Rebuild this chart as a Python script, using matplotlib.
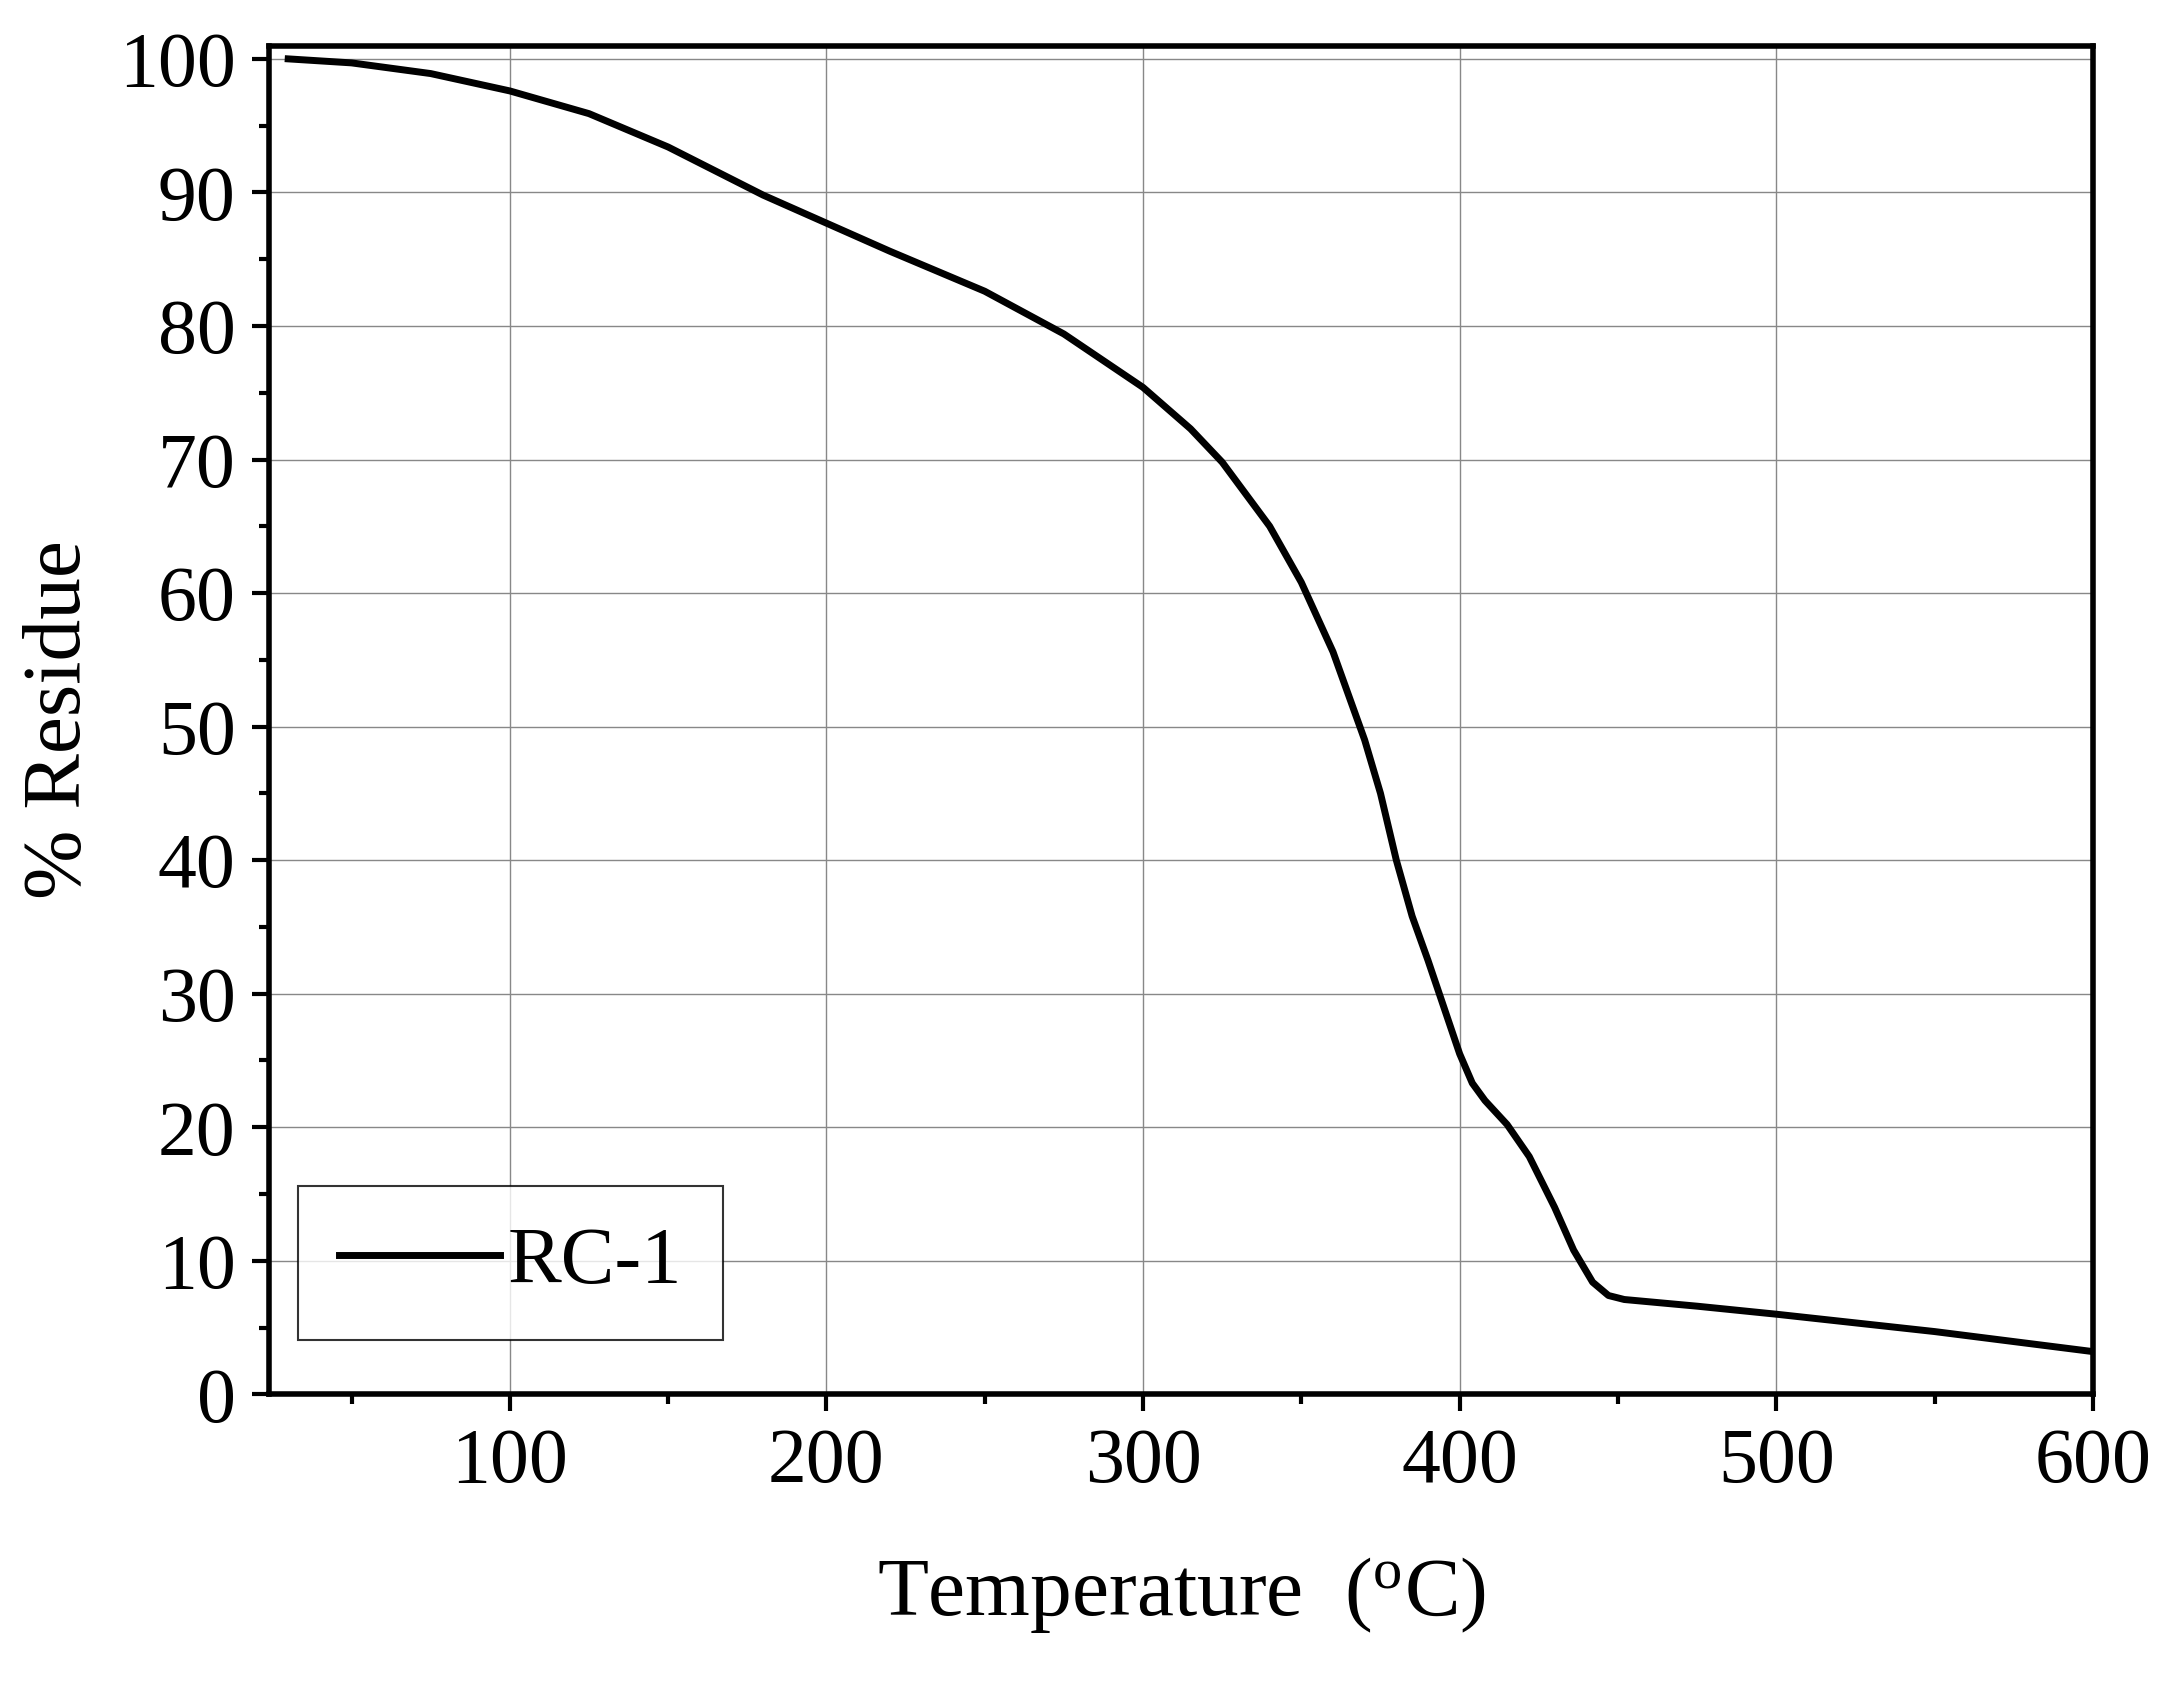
import numpy as np
import matplotlib
matplotlib.use("Agg")
import matplotlib.pyplot as plt
from matplotlib.ticker import MultipleLocator

temperature = [30, 50, 75, 100, 125, 150, 165, 180, 200, 220, 250, 275, 300, 315, 325, 340, 350, 360,
               370, 375, 380, 385, 390, 395, 400, 404, 408, 415, 422, 430, 436, 442, 447, 452,
               475, 500, 550, 600]
residue = [100, 99.7, 98.9, 97.6, 95.9, 93.4, 91.6, 89.8, 87.7, 85.6, 82.6, 79.4, 75.4, 72.3, 69.8, 65.0, 60.8, 55.6,
           49.0, 45.0, 40.0, 35.8, 32.5, 29.0, 25.5, 23.3, 22.0, 20.2, 17.8, 14.0, 10.8, 8.4, 7.4, 7.1,
           6.6, 6.0, 4.7, 3.2]

plt.rcParams['font.family'] = ['Liberation Serif', 'DejaVu Serif']
plt.rcParams['mathtext.fontset'] = 'custom'
plt.rcParams['mathtext.rm'] = 'Liberation Serif'
fig = plt.figure(figsize=(21.71, 16.86), dpi=100)
ax = fig.add_axes([0.124, 0.173, 0.84, 0.80])

ax.plot(temperature, residue, color='black', lw=5, label='RC-1')
ax.set_xlim(24, 600)
ax.set_ylim(0, 101)
ax.xaxis.set_major_locator(MultipleLocator(100))
ax.xaxis.set_minor_locator(MultipleLocator(50))
ax.yaxis.set_major_locator(MultipleLocator(10))
ax.yaxis.set_minor_locator(MultipleLocator(5))
ax.grid(True, which='major', color='#888888', lw=1)
ax.tick_params(which='major', direction='out', length=12, width=3, labelsize=56, pad=12)
ax.tick_params(which='minor', direction='out', length=7, width=3)
for s in ax.spines.values():
    s.set_linewidth(4)
ax.set_xlabel('Temperature  ($\\mathrm{^{o}}$C)', fontsize=60, labelpad=40)
ax.set_ylabel('% Residue', fontsize=60, labelpad=15)
leg = ax.legend(loc='lower left', bbox_to_anchor=(0.016, 0.04), fontsize=58, fancybox=False,
                edgecolor='black', handlelength=2.0, handletextpad=0.1, borderpad=0.5,
                borderaxespad=0)
leg.get_frame().set_linewidth(1.5)

fig.savefig('out.png', dpi=100, facecolor='white')
